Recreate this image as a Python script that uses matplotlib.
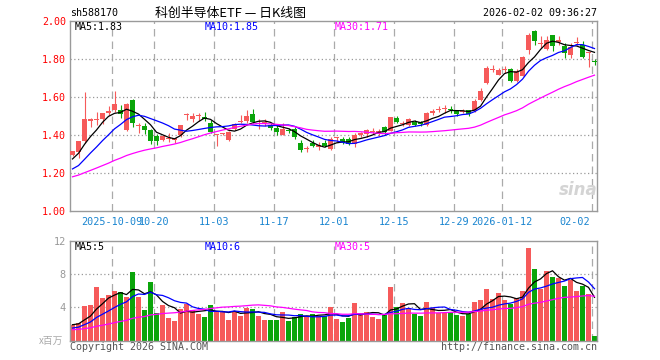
import numpy as np
import pandas as pd
import matplotlib
matplotlib.use("Agg")
import matplotlib.pyplot as plt

# ---------------- data ----------------
code = "sh588170"
title = "科创半导体ETF — 日K线图"
timestamp = "2026-02-02 09:36:27"

holidays = ["2025-10-01", "2025-10-02", "2025-10-03", "2025-10-06", "2025-10-07",
            "2025-10-08", "2026-01-01", "2026-01-02"]
dates = [d for d in pd.bdate_range("2025-09-22", "2026-02-02")
         if d.strftime("%Y-%m-%d") not in holidays]
tick_dates = ["2025-10-09", "2025-10-20", "2025-11-03", "2025-11-17", "2025-12-01",
              "2025-12-15", "2025-12-29", "2026-01-12", "2026-02-02"]
tick_labels = ["2025-10-09", "10-20", "11-03", "11-17", "12-01",
               "12-15", "12-29", "2026-01-12", "02-02"]

open_ = [1.296, 1.312, 1.368, 1.475, 1.478, 1.483, 1.515, 1.533, 1.533, 1.427,
         1.586, 1.447, 1.450, 1.427, 1.396, 1.373, 1.380, 1.373, 1.400, 1.505,
         1.483, 1.498, 1.497, 1.465, 1.398, 1.405, 1.373, 1.430, 1.468, 1.475,
         1.511, 1.460, 1.462, 1.453, 1.439, 1.400, 1.425, 1.430, 1.356, 1.327,
         1.356, 1.335, 1.356, 1.329, 1.385, 1.377, 1.377, 1.355, 1.403, 1.405,
         1.415, 1.405, 1.440, 1.423, 1.488, 1.458, 1.453, 1.471, 1.471, 1.455,
         1.515, 1.532, 1.535, 1.535, 1.530, 1.520, 1.530, 1.525, 1.582, 1.674,
         1.742, 1.718, 1.742, 1.747, 1.682, 1.712, 1.846, 1.949, 1.876, 1.853,
         1.923, 1.891, 1.870, 1.818, 1.881, 1.875, 1.830, 1.786]
high = [1.318, 1.370, 1.625, 1.490, 1.520, 1.515, 1.554, 1.634, 1.560, 1.568,
        1.590, 1.462, 1.465, 1.430, 1.405, 1.403, 1.412, 1.387, 1.453, 1.518,
        1.515, 1.515, 1.520, 1.480, 1.400, 1.410, 1.420, 1.465, 1.505, 1.533,
        1.536, 1.483, 1.483, 1.462, 1.453, 1.465, 1.435, 1.440, 1.373, 1.342,
        1.373, 1.365, 1.373, 1.390, 1.392, 1.392, 1.390, 1.410, 1.418, 1.430,
        1.435, 1.430, 1.450, 1.497, 1.500, 1.475, 1.490, 1.480, 1.475, 1.520,
        1.535, 1.554, 1.560, 1.555, 1.533, 1.537, 1.533, 1.590, 1.645, 1.765,
        1.770, 1.750, 1.765, 1.750, 1.746, 1.815, 1.937, 1.950, 1.919, 1.919,
        1.928, 1.919, 1.884, 1.884, 1.916, 1.893, 1.835, 1.800]
low = [1.290, 1.281, 1.360, 1.445, 1.453, 1.458, 1.508, 1.520, 1.488, 1.423,
       1.440, 1.412, 1.405, 1.355, 1.350, 1.368, 1.363, 1.360, 1.390, 1.480,
       1.470, 1.476, 1.476, 1.410, 1.345, 1.400, 1.368, 1.425, 1.462, 1.462,
       1.462, 1.430, 1.448, 1.427, 1.400, 1.400, 1.410, 1.382, 1.310, 1.310,
       1.335, 1.324, 1.335, 1.324, 1.365, 1.352, 1.347, 1.338, 1.390, 1.390,
       1.405, 1.395, 1.400, 1.420, 1.462, 1.447, 1.450, 1.447, 1.450, 1.450,
       1.505, 1.519, 1.516, 1.516, 1.502, 1.516, 1.502, 1.522, 1.578, 1.670,
       1.730, 1.715, 1.726, 1.680, 1.680, 1.710, 1.826, 1.872, 1.858, 1.848,
       1.840, 1.875, 1.805, 1.805, 1.875, 1.805, 1.756, 1.770]
close = [1.314, 1.368, 1.485, 1.485, 1.482, 1.515, 1.524, 1.565, 1.510, 1.565,
         1.462, 1.450, 1.427, 1.368, 1.368, 1.396, 1.383, 1.387, 1.453, 1.510,
         1.500, 1.502, 1.483, 1.418, 1.400, 1.410, 1.418, 1.458, 1.472, 1.500,
         1.471, 1.462, 1.467, 1.435, 1.414, 1.430, 1.423, 1.390, 1.324, 1.329,
         1.342, 1.347, 1.342, 1.377, 1.388, 1.365, 1.352, 1.400, 1.405, 1.427,
         1.418, 1.423, 1.418, 1.497, 1.471, 1.462, 1.485, 1.453, 1.457, 1.516,
         1.528, 1.535, 1.538, 1.530, 1.512, 1.525, 1.512, 1.578, 1.632, 1.752,
         1.745, 1.740, 1.745, 1.686, 1.735, 1.811, 1.928, 1.893, 1.880, 1.898,
         1.867, 1.895, 1.832, 1.860, 1.885, 1.810, 1.834, 1.783]
volume = [1.9, 2.1, 4.2, 4.3, 6.4, 5.1, 5.5, 6.0, 5.8, 5.2,
          8.2, 5.2, 3.7, 7.0, 3.3, 4.3, 2.7, 2.4, 3.8, 4.4,
          3.7, 3.2, 2.8, 4.3, 3.6, 3.6, 2.5, 3.6, 3.0, 3.9,
          3.8, 3.0, 2.5, 2.5, 2.5, 3.4, 2.4, 2.8, 3.2, 3.0,
          3.2, 3.0, 3.0, 4.0, 2.6, 2.24, 2.72, 4.5, 3.3, 3.44,
          2.84, 2.6, 3.04, 6.44, 4.04, 4.52, 3.92, 3.2, 2.96, 4.64,
          3.92, 3.32, 3.32, 3.44, 3.08, 2.96, 3.2, 4.64, 4.88, 6.2,
          5.0, 5.72, 4.88, 4.4, 5.12, 5.96, 11.12, 8.6, 6.2, 8.36,
          7.64, 7.52, 6.56, 7.28, 5.96, 6.56, 5.6, 0.56]
# closes / volumes of the 29 sessions before the visible window (estimated from
# where the moving-average lines start on the chart)
prior_close = [1.10, 1.11, 1.12, 1.11, 1.13, 1.14, 1.13, 1.15, 1.16, 1.15,
               1.17, 1.18, 1.17, 1.19, 1.18, 1.20, 1.19, 1.21, 1.20, 1.22,
               1.19, 1.16, 1.15, 1.17, 1.18, 1.22, 1.25, 1.28, 1.31]
prior_volume = [1.1, 1.3, 1.2, 1.0, 1.4, 1.2, 1.1, 1.3, 1.2, 1.0,
                1.2, 1.3, 1.1, 1.2, 1.4, 1.2, 1.1, 1.3, 1.2, 1.2,
                1.0, 1.2, 1.1, 1.0, 1.2, 1.6, 1.8, 2.0, 2.2]
ma_periods = [5, 10, 30]

# ---------------- styles ----------------
UP = "#f65a5a"
DOWN = "#0aa50a"
MA_COLORS = ["#000000", "#0000ff", "#ff00ff"]
FRAME = "#9a9a9a"
XBLUE = "#1a85d0"
MONO = "DejaVu Sans Mono"
CJK = ["Noto Sans CJK SC", "DejaVu Sans"]

W, H = 660, 360
fig = plt.figure(figsize=(W / 100, H / 100), dpi=100)


def fx(p):
    return p / W


def fy(p):
    return 1 - p / H


L, R = 70, 597
ax1 = fig.add_axes([fx(L), fy(211.3), (R - L) / W, (211.3 - 20.8) / H])
ax2 = fig.add_axes([fx(L), fy(340.5), (R - L) / W, (340.5 - 240.7) / H])

n = len(close)
xs = np.arange(n)
o = np.array(open_); c = np.array(close); h = np.array(high); lo = np.array(low)
v = np.array(volume)
up = c >= o
cols = [UP if u else DOWN for u in up]

full_c = pd.Series(prior_close + close)
full_v = pd.Series(prior_volume + volume)
k = len(prior_close)
ma_c = [full_c.rolling(p).mean().values[k:] for p in ma_periods]
ma_v = [full_v.rolling(p).mean().values[k:] for p in ma_periods]

PX = 1 / 6.0  # one pixel in x data units
bw = 5 * PX
xmin = -0.5 + 0.5 * PX
for ax in (ax1, ax2):
    ax.set_xlim(xmin, xmin + (R - L) * PX)
    for s in ax.spines.values():
        s.set_color(FRAME)
        s.set_linewidth(1.0)
    ax.tick_params(length=0)

# grid
tick_idx = [dates.index(pd.Timestamp(d)) for d in tick_dates]
for ax in (ax1, ax2):
    for t in tick_idx:
        ax.axvline(t - bw / 2, color="#aaaaaa", lw=0.9, ls=(0, (6, 4)), zorder=0)
for yv in [1.2, 1.4, 1.6, 1.8]:
    ax1.axhline(yv, color="#999999", lw=0.9, ls=(0, (1, 2)), zorder=0)
for yv in [4, 8]:
    ax2.axhline(yv, color="#999999", lw=0.9, ls=(0, (1, 2)), zorder=0)

# candles
ax1.vlines(xs, lo, h, colors=cols, lw=0.8, zorder=2)
body_h = np.maximum(np.abs(c - o), 0.006)
body_b = np.minimum(o, c)
ax1.bar(xs, body_h, bottom=body_b, width=bw, color=cols, lw=0, zorder=3)
for m, col in zip(ma_c, MA_COLORS):
    ax1.plot(xs, m, color=col, lw=0.9, zorder=4)
ax1.set_ylim(1.0, 2.0)

# volume
ax2.bar(xs, v, width=bw, color=cols, lw=0, zorder=2)
for m, col in zip(ma_v, MA_COLORS):
    ax2.plot(xs, m, color=col, lw=0.9, zorder=4)
ax2.set_ylim(0, 12)

# axis labels
ax1.set_yticks([1.0, 1.2, 1.4, 1.6, 1.8, 2.0])
ax1.set_yticklabels(["%.2f" % t for t in [1.0, 1.2, 1.4, 1.6, 1.8, 2.0]],
                    color="#ff0000", family=MONO, fontsize=7.2)
ax1.tick_params(axis="y", pad=3)
ax2.set_yticks([4, 8, 12])
ax2.set_yticklabels(["4", "8", "12"], color="#999999", family=MONO, fontsize=7.4)
ax2.tick_params(axis="y", pad=3)
ax1.set_xticks([]); ax2.set_xticks([])
fig.text(fx(63), fy(341), "x百万", ha="right", va="center", color="#aaaaaa",
         fontsize=7, family=CJK)

for j, (t, lab) in enumerate(zip(tick_idx, tick_labels)):
    last = j == len(tick_idx) - 1
    ax1.annotate(lab, xy=(t - bw / 2, 0), xycoords=("data", "axes fraction"),
                 xytext=(-1.5 if last else 0, -8), textcoords="offset points",
                 ha="right" if last else "center", va="center",
                 color=XBLUE, family=MONO, fontsize=7.3)

# header
fig.text(fx(70), fy(13), code, ha="left", va="center", family=MONO, fontsize=7.2)
fig.text(fx(230), fy(13), title, ha="center", va="center", family=CJK, fontsize=9.3)
fig.text(fx(597), fy(13), timestamp, ha="right", va="center", family=MONO, fontsize=7.2)

# MA legends
names = ["MA5", "MA10", "MA30"]
lx = [75, 205, 335]
for nm, xx, col, mc, mv in zip(names, lx, MA_COLORS, ma_c, ma_v):
    fig.text(fx(xx), fy(26.5), "%s:%.2f" % (nm, mc[-1]), color=col, family=MONO,
             fontsize=7.2, va="center", ha="left")
    fig.text(fx(xx), fy(247), "%s:%.0f" % (nm, mv[-1]), color=col, family=MONO,
             fontsize=7.2, va="center", ha="left")

# footer
fig.text(fx(70), fy(346.5), "Copyright 2026 SINA.COM", ha="left", va="center",
         family=MONO, fontsize=7.2, color="#555555")
fig.text(fx(597), fy(346.5), "http://finance.sina.com.cn", ha="right", va="center",
         family=MONO, fontsize=7.2, color="#555555")

# watermark
fig.text(fx(578), fy(190), "sina", ha="center", va="center", fontsize=12,
         style="italic", weight="bold", color="#d4d4d4", zorder=0)

fig.savefig("out.png", dpi=100)
